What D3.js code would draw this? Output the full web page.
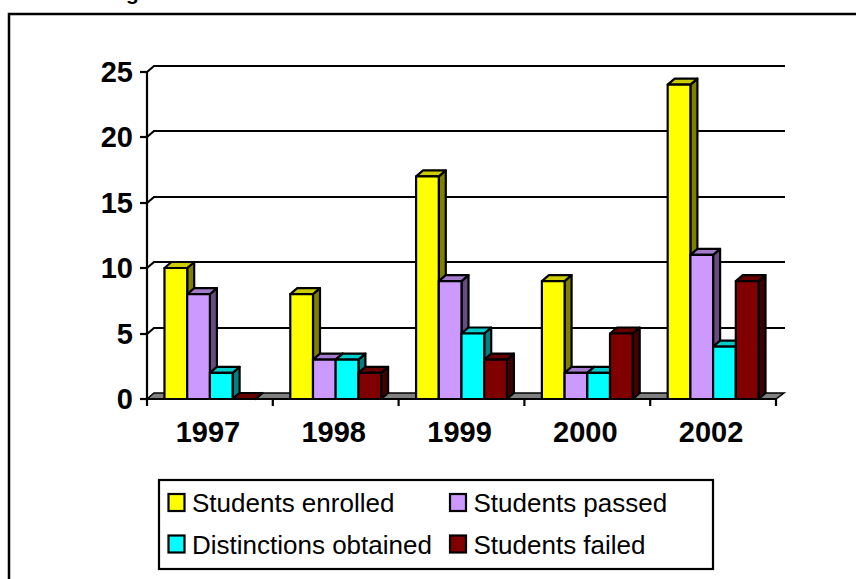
<!DOCTYPE html>
<html><head><meta charset="utf-8">
<script src="https://cdn.jsdelivr.net/npm/d3@7"></script>
<style>html,body{margin:0;padding:0;background:#fff;}svg{display:block;}</style>
</head><body>
<svg id="c" width="856" height="579"></svg>
<script>
const years = ["1997", "1998", "1999", "2000", "2002"];
const seriesNames = ["Students enrolled", "Students passed", "Distinctions obtained", "Students failed"];
const enrolled = [10, 8, 17, 9, 24];
const passed = [8, 3, 9, 2, 11];
const distinctions = [2, 3, 5, 2, 4];
const failed = [0, 2, 3, 5, 9];
const yTicks = [0, 5, 10, 15, 20, 25];
const frontColors = ["#FFFF00", "#CC99FF", "#00FFFF", "#800000"];
const sideColors = ["#808000", "#664C80", "#008080", "#400000"];
const topColors = ["#CCCC00", "#A37ACC", "#00CCCC", "#660000"];

const seriesValues = [enrolled, passed, distinctions, failed];
const svg = d3.select("#c");
const font = "'Liberation Sans', Arial, sans-serif";

// frame
svg.append("path").attr("d", "M9,590 L9,14 L870,14").attr("fill", "none").attr("stroke", "#000").attr("stroke-width", 2.5);
svg.append("text").attr("x", 126).attr("y", 0).attr("font-family", font).attr("font-weight", "bold").attr("font-size", 21).text("g");

const x0 = 147, x1 = 776, dx = 7, dy = -6;
const x = d3.scaleBand().domain(years).range([x0, x1]).padding(0);
const xs = d3.scaleBand().domain(d3.range(4)).range([0, x.bandwidth()]).paddingInner(0).paddingOuter(0.77);
const y = d3.scaleLinear().domain([0, 25]).range([399, 71.5]);
const yr = v => Math.round(y(v));

// gridlines
const g = svg.append("g");
yTicks.filter(v => v > 0).forEach(v => {
  g.append("path").attr("d", `M${x0},${yr(v)} L${x0+dx},${yr(v)+dy} L${x1+9},${yr(v)+dy}`)
    .attr("fill", "none").attr("stroke", "#000").attr("stroke-width", 2.2);
});
// floor
g.append("path").attr("d", `M${x0},${y(0)} L${x1},${y(0)} L${x1+dx+1},${y(0)+dy} L${x0+dx},${y(0)+dy} Z`)
  .attr("fill", "#808080").attr("stroke", "#000").attr("stroke-width", 1.5);

// y axis
const yAxis = d3.axisLeft(y).tickValues(yTicks).tickSize(7).tickPadding(7);
const ya = svg.append("g").attr("transform", `translate(${x0},0)`).call(yAxis);
ya.selectAll(".tick").attr("transform", d => `translate(0,${yr(d)})`);
ya.select(".domain").attr("stroke", "#000").attr("stroke-width", 2.2).attr("d", `M-7,${yr(25)}H0V${y(0)}`);
ya.selectAll(".tick line").attr("stroke", "#000").attr("stroke-width", 2.2);
ya.selectAll("text").attr("font-family", font).attr("font-weight", "bold").attr("font-size", 29).attr("fill", "#000").attr("dy", "0.35em");

// bars
const bars = svg.append("g");
years.forEach((yrLabel, i) => {
  seriesValues.forEach((vals, s) => {
    const bx = x(yrLabel) + xs(s), bw = xs.bandwidth();
    const top = y(vals[i]), bot = y(0);
    const stroke = {stroke: "#000", "stroke-width": 2.2, "stroke-linejoin": "round"};
    const side = bars.append("path").attr("d", `M${bx+bw},${bot} L${bx+bw+dx},${bot+dy} L${bx+bw+dx},${top+dy} L${bx+bw},${top} Z`).attr("fill", sideColors[s]);
    const tp = bars.append("path").attr("d", `M${bx},${top} L${bx+dx},${top+dy} L${bx+bw+dx},${top+dy} L${bx+bw},${top} Z`).attr("fill", topColors[s]);
    const fr = bars.append("rect").attr("x", bx).attr("y", top).attr("width", bw).attr("height", bot - top).attr("fill", frontColors[s]);
    [side, tp, fr].forEach(el => Object.entries(stroke).forEach(([k, v]) => el.attr(k, v)));
  });
});

// x axis
const xAxis = d3.axisBottom(x).tickSize(0).tickPadding(22);
const xa = svg.append("g").attr("transform", `translate(0,${y(0)})`).call(xAxis);
xa.select(".domain").attr("stroke", "#000").attr("stroke-width", 2.2).attr("d", `M${x0},0H${x1}`);
xa.selectAll("text").attr("font-family", font).attr("font-weight", "bold").attr("font-size", 29).attr("fill", "#000").attr("dy", "0.71em").attr("dx", -2);
const bounds = years.map(d => x(d)).concat([x1]);
xa.selectAll(".bt").data(bounds).enter().append("line").attr("class", "bt")
  .attr("x1", d => d).attr("x2", d => d).attr("y1", 0).attr("y2", 7).attr("stroke", "#000").attr("stroke-width", 2.2);

// legend
const lg = svg.append("g");
lg.append("rect").attr("x", 159).attr("y", 480).attr("width", 554).attr("height", 89).attr("fill", "#fff").attr("stroke", "#000").attr("stroke-width", 2.2);
const lx = [168.5, 450], ly = [502.5, 544];
seriesNames.forEach((name, i) => {
  const cx = lx[i % 2], cy = ly[Math.floor(i / 2)];
  lg.append("rect").attr("x", cx).attr("y", cy - 8.5).attr("width", 16).attr("height", 17).attr("fill", frontColors[i]).attr("stroke", "#000").attr("stroke-width", 2.2);
  lg.append("text").attr("x", cx + 23.5).attr("y", cy + 9.5).attr("font-family", font).attr("font-size", 26).attr("fill", "#000").text(name);
});
</script>
</body></html>
